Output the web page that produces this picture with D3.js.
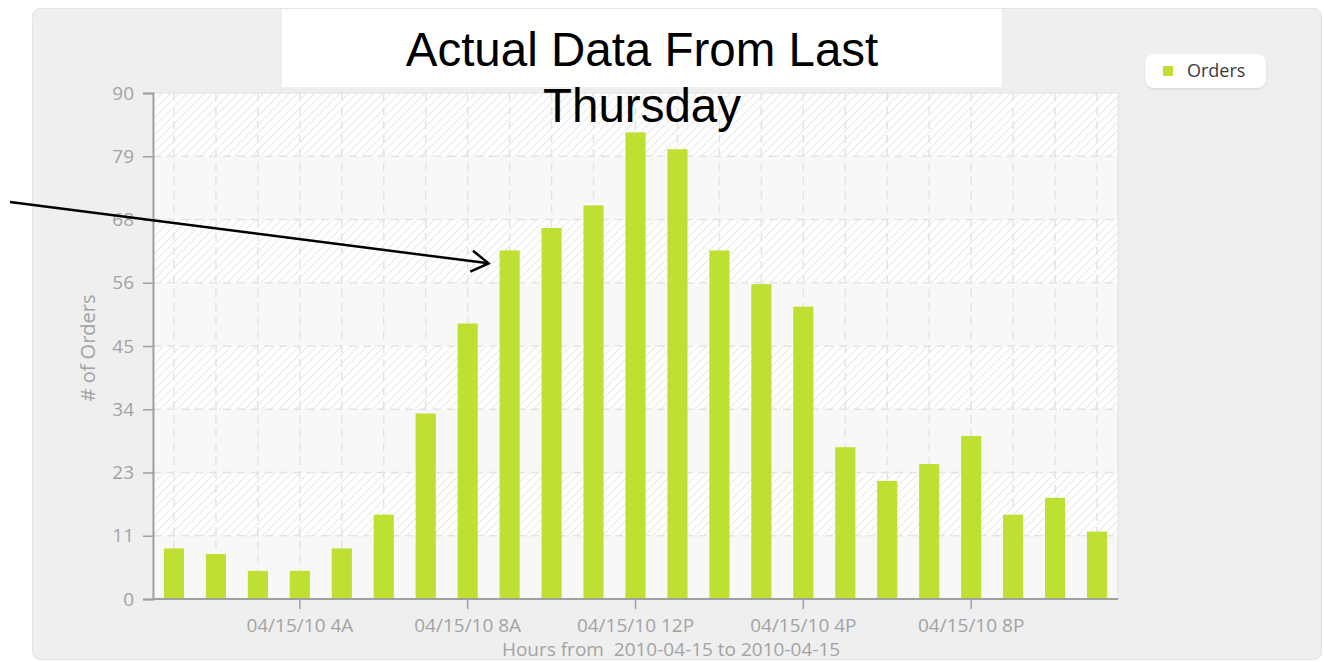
<!DOCTYPE html>
<html>
<head>
<meta charset="utf-8">
<script src="https://cdn.jsdelivr.net/npm/d3@7"></script>
<style>
  body { margin: 0; background: #fff; }
  svg { display: block; }
  .tick-label { font-family: 'Open Sans', sans-serif; font-size: 19px; fill: #a3a3a3; }
</style>
</head>
<body>
<div id="chart"></div>
<script>
'use strict';

// Hours of the day (1A .. 11P) and orders per hour.
var hours = [1, 2, 3, 4, 5, 6, 7, 8, 9, 10, 11, 12, 13, 14, 15, 16, 17, 18, 19, 20, 21, 22, 23];
var orders = [9, 8, 5, 5, 9, 15, 33, 49, 62, 66, 70, 83, 80, 62, 56, 52, 27, 21, 24, 29, 15, 18, 12];

var yTicks = [0, 11.25, 22.5, 33.75, 45, 56.25, 67.5, 78.75, 90];
var yTickLabels = ['0', '11', '23', '34', '45', '56', '68', '79', '90'];

var xTickHours = [4, 8, 12, 16, 20];
var xTickLabels = ['04/15/10 4A', '04/15/10 8A', '04/15/10 12P', '04/15/10 4P', '04/15/10 8P'];

var titleLines = ['Actual Data From Last', 'Thursday'];
var seriesName = 'Orders';

var W = 1324, H = 662;
var plotLeft = 153, plotRight = 1118, plotTop = 93, plotBottom = 599;
var barColor = '#bee033';

var svg = d3.select('#chart').append('svg')
  .attr('width', W)
  .attr('height', H);

var defs = svg.append('defs');

// Diagonal hatch used by the alternating plot bands.
var hatch = defs.append('pattern')
  .attr('id', 'hatch')
  .attr('patternUnits', 'userSpaceOnUse')
  .attr('width', 6)
  .attr('height', 6)
  .attr('patternTransform', 'rotate(45)');
hatch.append('rect').attr('width', 6).attr('height', 6).attr('fill', '#ffffff');
hatch.append('line')
  .attr('x1', 0).attr('y1', 0).attr('x2', 0).attr('y2', 6)
  .attr('stroke', '#e3e3e3')
  .attr('stroke-width', 1.6);

var shadow = defs.append('filter').attr('id', 'shadow')
  .attr('x', '-20%').attr('y', '-30%').attr('width', '140%').attr('height', '160%');
shadow.append('feDropShadow')
  .attr('dx', 0).attr('dy', 1).attr('stdDeviation', 1.2)
  .attr('flood-color', '#000').attr('flood-opacity', 0.12);

// Panel background.
svg.append('rect')
  .attr('x', 32.5).attr('y', 8.5)
  .attr('width', 1289).attr('height', 651)
  .attr('rx', 8)
  .attr('fill', '#efefef')
  .attr('stroke', '#e3e3e3');

var x = d3.scaleBand()
  .domain(hours)
  .range([plotLeft, plotRight])
  .paddingInner(0.52)
  .paddingOuter(0.26);

var y = d3.scaleLinear()
  .domain([0, 90])
  .range([plotBottom, plotTop]);

// Alternating bands: hatched / plain.
var bands = d3.range(yTicks.length - 1);
svg.append('g').selectAll('rect')
  .data(bands)
  .join('rect')
  .attr('x', plotLeft)
  .attr('width', plotRight - plotLeft)
  .attr('y', function(i) { return y(yTicks[i + 1]); })
  .attr('height', function(i) { return y(yTicks[i]) - y(yTicks[i + 1]); })
  .attr('fill', function(i) { return i % 2 === 0 ? '#f8f8f8' : 'url(#hatch)'; });

svg.append('rect')
  .attr('x', plotLeft).attr('y', plotTop)
  .attr('width', plotRight - plotLeft).attr('height', plotBottom - plotTop)
  .attr('fill', 'none')
  .attr('stroke', '#e2e2e2');

// Dashed grid.
var grid = svg.append('g')
  .attr('stroke', '#e3e3e3')
  .attr('stroke-width', 1.5)
  .attr('stroke-dasharray', '8,6');

grid.selectAll('.v')
  .data(hours)
  .join('line')
  .attr('class', 'v')
  .attr('x1', function(d) { return x(d) + x.bandwidth() / 2; })
  .attr('x2', function(d) { return x(d) + x.bandwidth() / 2; })
  .attr('y1', plotTop)
  .attr('y2', plotBottom);

grid.selectAll('.h')
  .data(yTicks.slice(1, -1))
  .join('line')
  .attr('class', 'h')
  .attr('x1', plotLeft)
  .attr('x2', plotRight)
  .attr('y1', function(d) { return y(d); })
  .attr('y2', function(d) { return y(d); });

// Bars.
svg.append('g').selectAll('rect')
  .data(hours)
  .join('rect')
  .attr('x', function(d) { return x(d); })
  .attr('width', x.bandwidth())
  .attr('y', function(d, i) { return y(orders[i]); })
  .attr('height', function(d, i) { return plotBottom - y(orders[i]); })
  .attr('fill', barColor);

// Y axis.
var yAxis = svg.append('g')
  .attr('transform', 'translate(' + plotLeft + ',0)')
  .call(d3.axisLeft(y)
    .tickValues(yTicks)
    .tickSize(10)
    .tickPadding(9)
    .tickFormat(function(d, i) { return yTickLabels[i]; }));

// X axis.
var xAxis = svg.append('g')
  .attr('transform', 'translate(0,' + plotBottom + ')')
  .call(d3.axisBottom(x)
    .tickValues(xTickHours)
    .tickSize(10)
    .tickPadding(10)
    .tickFormat(function(d, i) { return xTickLabels[i]; }));
xAxis.select('.domain').attr('d', 'M' + plotLeft + ',0H' + plotRight);

[yAxis, xAxis].forEach(function(ax) {
  ax.attr('font-size', null).attr('font-family', null);
  ax.select('.domain').attr('stroke', '#a0a0a0').attr('stroke-width', 2);
  ax.selectAll('.tick line').attr('stroke', '#a0a0a0').attr('stroke-width', 1.5);
  ax.selectAll('.tick text').attr('class', 'tick-label').attr('fill', null);
});

svg.append('text')
  .attr('class', 'tick-label')
  .attr('x', 671)
  .attr('y', 656)
  .attr('text-anchor', 'middle')
  .text('Hours from\u00a0 2010-04-15 to 2010-04-15');

svg.append('text')
  .attr('class', 'tick-label')
  .attr('font-size', 20)
  .style('font-size', '20px')
  .attr('transform', 'translate(95,' + ((plotTop + plotBottom) / 2 + 2) + ') rotate(-90)')
  .attr('text-anchor', 'middle')
  .text('# of Orders');

// Legend.
var legend = svg.append('g').attr('transform', 'translate(1145,54)');
legend.append('rect')
  .attr('width', 121).attr('height', 34).attr('rx', 9)
  .attr('fill', '#fff')
  .attr('filter', 'url(#shadow)');
legend.append('rect')
  .attr('x', 18).attr('y', 12).attr('width', 10).attr('height', 10)
  .attr('fill', barColor);
legend.append('text')
  .attr('x', 42).attr('y', 23)
  .attr('font-family', "'Open Sans', sans-serif")
  .attr('font-size', 18)
  .attr('fill', '#3a3a3a')
  .text(seriesName);

// Title box laid over the chart.
svg.append('rect')
  .attr('x', 282).attr('y', 9)
  .attr('width', 720).attr('height', 78)
  .attr('fill', '#fff');

svg.append('g').selectAll('text')
  .data(titleLines)
  .join('text')
  .attr('x', 642)
  .attr('y', function(d, i) { return 66 + i * 56; })
  .attr('text-anchor', 'middle')
  .attr('font-family', "'Liberation Sans', Arial, sans-serif")
  .attr('font-size', 47.5)
  .attr('fill', '#000')
  .text(function(d) { return d; });

// Arrow pointing at the 9A bar.
var tipX = x(9) - 11;
var tipY = y(59.7);
var ang = Math.atan2(tipY - 202, tipX - 10);
var arm = 20;
svg.append('line')
  .attr('x1', 10).attr('y1', 202)
  .attr('x2', tipX).attr('y2', tipY)
  .attr('stroke', '#000')
  .attr('stroke-width', 2.5);
svg.append('path')
  .attr('d', 'M' + (tipX - arm * Math.cos(ang - 0.55)) + ',' + (tipY - arm * Math.sin(ang - 0.55)) +
    'L' + tipX + ',' + tipY +
    'L' + (tipX - arm * Math.cos(ang + 0.55)) + ',' + (tipY - arm * Math.sin(ang + 0.55)))
  .attr('fill', 'none')
  .attr('stroke', '#000')
  .attr('stroke-width', 2.5);
</script>
</body>
</html>
